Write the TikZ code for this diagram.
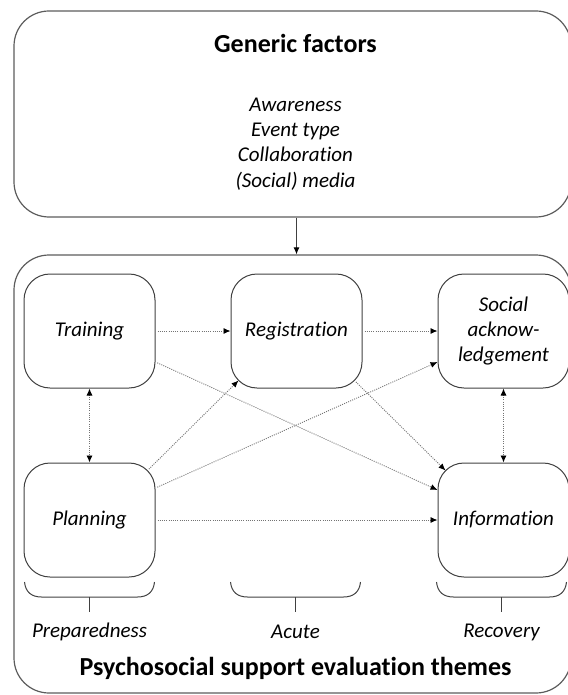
\documentclass[tikz,border=0pt]{standalone}
\usepackage{fontspec}
\setmainfont{Carlito}[Ligatures={NoCommon}]
\usetikzlibrary{arrows.meta,positioning}
\definecolor{edge}{gray}{0.25}
\definecolor{dots}{gray}{0.45}
\tikzstyle{theme} = [draw=edge,line width=1pt,rounded corners=26pt,minimum width=131pt,minimum height=114pt,align=center,font=\fontsize{21}{25.3}\selectfont\itshape]
\tikzstyle{frame} = [draw=edge!85,line width=1.2pt,rounded corners=35pt]
\tikzstyle{title} = [font=\fontsize{26}{31}\selectfont\bfseries]
\tikzstyle{phase} = [font=\fontsize{21}{25.3}\selectfont\itshape]
\tikzstyle{link} = [dots,line width=0.9pt,dash pattern=on 1pt off 1.2pt,shorten <=2pt,-{Latex[length=7pt,width=6pt,color=black]}]
\tikzstyle{both} = [link,shorten <=0pt,{Latex[length=7pt,width=6pt,color=black]}-{Latex[length=7pt,width=6pt,color=black]}]
\def \gap {74pt and 75pt}

\begin{document}
\begin{tikzpicture}[x=1pt,y=1pt,node distance=\gap]
      \useasboundingbox (0,0) rectangle (567,-695);
      % outer frames
      \node[frame,minimum width=557pt,minimum height=206pt] (generic) at (292.5,-114) {};
      \node[frame,minimum width=557pt,minimum height=438pt] (themes) at (292.5,-474) {};
      \node[title] (gtitle) at (295.5,-43) {Generic factors};
      \node[phase,align=center] (factors) at (295.5,-144) {Awareness\\Event type\\Collaboration\\(Social) media};
      % themes
      \node[theme] (train) at (89.5,-331) {Training};
      \node[theme,right=of train] (reg) {Registration};
      \node[theme,right=of reg] (soc) {Social\\acknow-\\ledgement};
      \node[theme,below=of train] (plan) {Planning};
      \node[theme,below=of soc] (info) {Information};
      \draw[edge,line width=1pt,-{Latex[length=7pt,width=6pt,color=black]}] (reg.north |- generic.south) -- (reg.north |- themes.north);
      \draw[link] (train) -- (reg);
      \draw[link] (reg) -- (soc);
      \draw[link] (plan) -- (info);
      \draw[both] (train) -- (plan);
      \draw[both] (soc) -- (info);
      \draw[link] ([yshift=-31pt]train.east) -- ([yshift=30pt]info.west);
      \draw[link] ([xshift=-8pt,yshift=8pt]reg.south east) -- ([xshift=8pt,yshift=-8pt]info.north west);
      \draw[link] ([xshift=-8pt,yshift=-8pt]plan.north east) -- ([xshift=8pt,yshift=8pt]reg.south west);
      \draw[link] ([yshift=32pt]plan.east) -- ([yshift=-31pt]soc.west);
      % phases
      \foreach \x/\name/\txt in {89.5/prep/Preparedness, 295.5/acute/Acute, 501.5/recov/Recovery} {
        \draw[edge,line width=1pt] (\x-65,-582) .. controls (\x-64,-592) and (\x-58,-597) .. (\x-48,-597) -- (\x+48,-597) .. controls (\x+58,-597) and (\x+64,-592) .. (\x+65,-582);
        \draw[edge,line width=1pt] (\x,-597) -- (\x,-612);
        \node[phase] (\name) at (\x,-632) {\txt};
      }
      \node[title] (ttitle) at (295.5,-668) {Psychosocial support evaluation themes};
    \end{tikzpicture}
\end{document}
